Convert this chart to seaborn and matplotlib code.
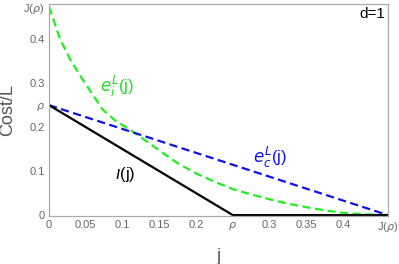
import numpy as np
import pandas as pd
import seaborn as sns
import matplotlib.pyplot as plt

# values
rho = 0.25
J_rho_x = 0.461
J_rho_y = 0.474

iota_j = [0.0, rho, J_rho_x]
iota_v = [0.25, 0.0, 0.0]

ec_j = [0.0, J_rho_x]
ec_v = [0.25, 0.0]

ei_j = [0.0, 0.015, 0.03, 0.049, 0.065, 0.073, 0.09, 0.114, 0.15, 0.175,
        0.2, 0.225, 0.25, 0.275, 0.3, 0.325, 0.35, 0.375, 0.4, 0.43, J_rho_x]
ei_v = [0.474, 0.40, 0.35, 0.30, 0.26, 0.24, 0.215, 0.19, 0.147, 0.118,
        0.095, 0.076, 0.059, 0.047, 0.036, 0.026, 0.018, 0.011, 0.005, 0.002, 0.0]

x_ticks = [0, 0.05, 0.1, 0.15, 0.2, rho, 0.3, 0.35, 0.4, J_rho_x]
x_labels = ['0', '0.05', '0.1', '0.15', '0.2', r'$\rho$', '0.3', '0.35', '0.4', r'J($\rho$)']
y_ticks = [0, 0.1, 0.2, rho, 0.3, 0.4, J_rho_y]
y_labels = ['0', '0.1', '0.2', r'$\rho$', '0.3', '0.4', r'J($\rho$)']

sns.set_theme(style='white')
plt.rcParams['font.family'] = ['Liberation Sans', 'DejaVu Sans']
plt.rcParams['mathtext.fontset'] = 'dejavusans'

fig = plt.figure(figsize=(3.99, 2.64), dpi=100)
ax = fig.add_axes([0.1228, 0.1818, 0.8496, 0.8032])

gray = '#999999'
tick_gray = '#666666'

sns.lineplot(x=ei_j, y=ei_v, ax=ax, color='#22ee22', linewidth=1.6,
             linestyle=(0, (3.7, 2.0)), sort=False)
sns.lineplot(x=ec_j, y=ec_v, ax=ax, color='#1111ee', linewidth=1.6,
             linestyle=(0, (3.7, 2.0)), sort=False)
sns.lineplot(x=iota_j, y=iota_v, ax=ax, color='black', linewidth=1.6, sort=False)

ax.set_xlim(0, J_rho_x)
ax.set_ylim(-0.002, 0.48)
ax.set_xticks(x_ticks)
ax.set_xticklabels(x_labels)
ax.set_yticks(y_ticks)
ax.set_yticklabels(y_labels)
ax.tick_params(axis='both', direction='in', length=3, width=0.8, color=gray,
               labelsize=8, labelcolor=tick_gray, pad=3)
for s in ax.spines.values():
    s.set_color('#aaaaaa')
    s.set_linewidth(0.9)

ax.set_xlabel('j', fontsize=13, color='#555555', labelpad=10)
ax.set_ylabel('Cost/L', fontsize=13, color='#555555', labelpad=5)

ax.text(0.093, 0.293, r'$e_i^L$(j)', color='#22dd22', fontsize=12, ha='center', va='center')
ax.text(0.300, 0.130, r'$e_c^L$(j)', color='#1111ee', fontsize=12, ha='center', va='center')
ax.text(0.103, 0.093, r'$\imath$(j)', color='black', fontsize=12, ha='center', va='center')
ax.text(0.457, 0.458, 'd=1', color='black', fontsize=11, ha='right', va='center')

fig.savefig('out.png', dpi=100)
